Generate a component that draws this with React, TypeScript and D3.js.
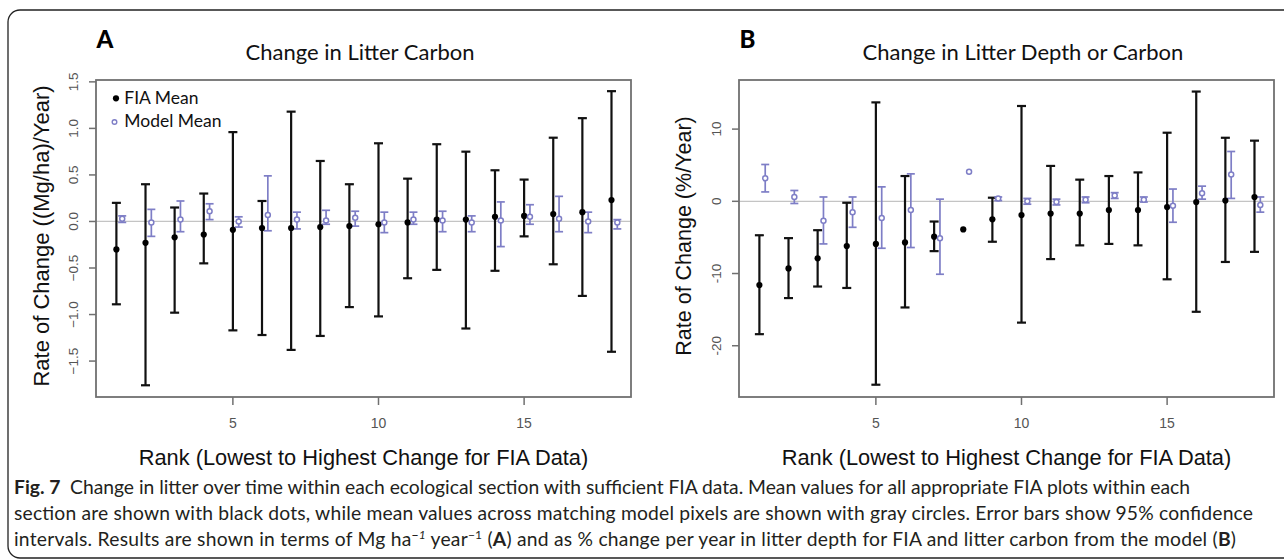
import React from "react";
import * as d3 from "d3";

const ranks = [1, 2, 3, 4, 5, 6, 7, 8, 9, 10, 11, 12, 13, 14, 15, 16, 17, 18];

// Panel A: Change in Litter Carbon ((Mg/ha)/Year)
const aFiaMean = [-0.30, -0.23, -0.17, -0.14, -0.09, -0.07, -0.07, -0.06, -0.05, -0.03, -0.01, 0.02, 0.02, 0.05, 0.06, 0.08, 0.10, 0.23];
const aFiaLow = [-0.89, -1.76, -0.98, -0.45, -1.17, -1.22, -1.38, -1.23, -0.92, -1.02, -0.61, -0.52, -1.15, -0.53, -0.16, -0.46, -0.80, -1.40];
const aFiaHigh = [0.20, 0.40, 0.15, 0.30, 0.96, 0.22, 1.18, 0.65, 0.40, 0.84, 0.46, 0.83, 0.75, 0.55, 0.45, 0.90, 1.11, 1.40];
const aModelMean = [0.03, -0.01, 0.02, 0.11, 0.00, 0.07, 0.02, 0.01, 0.04, -0.01, 0.02, 0.01, -0.01, 0.01, 0.05, 0.03, 0.00, -0.01];
const aModelLow = [-0.01, -0.16, -0.11, 0.02, -0.06, -0.10, -0.08, -0.03, -0.05, -0.12, -0.03, -0.11, -0.11, -0.27, -0.03, -0.11, -0.12, -0.08];
const aModelHigh = [0.06, 0.13, 0.22, 0.19, 0.05, 0.49, 0.10, 0.12, 0.11, 0.10, 0.10, 0.11, 0.06, 0.21, 0.18, 0.27, 0.10, 0.02];
const aYTicks = [-1.5, -1.0, -0.5, 0.0, 0.5, 1.0, 1.5];

// Panel B: Change in Litter Depth or Carbon (%/Year)
const bFiaMean = [-11.6, -9.3, -7.9, -6.2, -5.9, -5.7, -4.9, -3.9, -2.5, -1.9, -1.7, -1.7, -1.2, -1.2, -0.8, -0.1, 0.1, 0.6];
const bFiaLow = [-18.4, -13.4, -11.8, -12.0, -25.4, -14.7, -6.9, null, -5.6, -16.8, -8.0, -6.1, -5.9, -6.1, -10.8, -15.3, -8.4, -7.0];
const bFiaHigh = [-4.7, -5.1, -4.0, -0.2, 13.7, 3.5, -2.8, null, 0.5, 13.2, 4.9, 3.0, 3.5, 4.0, 9.5, 15.2, 8.8, 8.4];
const bModelMean = [3.2, 0.6, -2.7, -1.5, -2.3, -1.2, -5.1, 4.1, 0.4, 0.0, -0.1, 0.2, 0.8, 0.2, -0.6, 1.1, 3.7, -0.5];
const bModelLow = [1.3, -0.3, -5.9, -3.6, -6.5, -6.4, -10.1, null, 0.1, -0.4, -0.5, -0.2, 0.4, -0.1, -2.9, 0.3, 0.4, -1.5];
const bModelHigh = [5.1, 1.5, 0.6, 0.6, 2.0, 3.8, 0.3, null, 0.6, 0.4, 0.3, 0.6, 1.2, 0.6, 1.7, 2.1, 6.9, 0.6];
const bYTicks = [-20, -10, 0, 10];

const xTicks = [5, 10, 15];
const modelOffset = 0.2;

const R_FONT = "'Liberation Sans', Arial, sans-serif";
const HUM_FONT = "Lato, 'Open Sans', sans-serif";
const MODEL_COLOR = "#7e7ec6";
const BOX_COLOR = "#707070";
const TICK_TEXT = "#555555";

type PanelProps = {
  x0: number;
  x1: number;
  yDomain: [number, number];
  yTicks: number[];
  yFmt: (v: number) => string;
  fiaMean: number[];
  fiaLow: (number | null)[];
  fiaHigh: (number | null)[];
  modelMean: number[];
  modelLow: (number | null)[];
  modelHigh: (number | null)[];
  title: string;
  titleX: number;
  letter: string;
  yLabel: string;
  yLabelSize: number;
  legend?: boolean;
};

const TOP = 80;
const BOTTOM = 397;

function Panel(p: PanelProps) {
  const x = d3.scaleLinear().domain([0.3, 18.67]).range([p.x0, p.x1]);
  const y = d3.scaleLinear().domain(p.yDomain).range([BOTTOM, TOP]);
  const cap = 4.5;
  const mcap = 4;
  const cx = (p.x0 + p.x1) / 2;
  return (
    <g>
      <line x1={p.x0} x2={p.x1} y1={y(0)} y2={y(0)} stroke="#c4c4c4" strokeWidth={1.2} />
      {ranks.map((r, i) => {
        const lo = p.fiaLow[i];
        const hi = p.fiaHigh[i];
        if (lo == null || hi == null) return null;
        const xx = x(r);
        return (
          <g key={"f" + r} stroke="#111" strokeWidth={2.2}>
            <line x1={xx} x2={xx} y1={y(lo)} y2={y(hi)} />
            <line x1={xx - cap} x2={xx + cap} y1={y(lo)} y2={y(lo)} />
            <line x1={xx - cap} x2={xx + cap} y1={y(hi)} y2={y(hi)} />
          </g>
        );
      })}
      {ranks.map((r, i) => {
        const lo = p.modelLow[i];
        const hi = p.modelHigh[i];
        if (lo == null || hi == null) return null;
        const xx = x(r + modelOffset);
        return (
          <g key={"m" + r} stroke={MODEL_COLOR} strokeWidth={1.7}>
            <line x1={xx} x2={xx} y1={y(lo)} y2={y(hi)} />
            <line x1={xx - mcap} x2={xx + mcap} y1={y(lo)} y2={y(lo)} />
            <line x1={xx - mcap} x2={xx + mcap} y1={y(hi)} y2={y(hi)} />
          </g>
        );
      })}
      {ranks.map((r, i) => (
        <circle key={"fp" + r} cx={x(r)} cy={y(p.fiaMean[i])} r={3.1} fill="#000" />
      ))}
      {ranks.map((r, i) => (
        <circle
          key={"mp" + r}
          cx={x(r + modelOffset)}
          cy={y(p.modelMean[i])}
          r={2.5}
          fill="white"
          stroke={MODEL_COLOR}
          strokeWidth={1.5}
        />
      ))}
      <rect x={p.x0} y={TOP} width={p.x1 - p.x0} height={BOTTOM - TOP} fill="none" stroke={BOX_COLOR} strokeWidth={1.8} />
      {xTicks.map((t) => (
        <g key={"xt" + t}>
          <line x1={x(t)} x2={x(t)} y1={BOTTOM} y2={BOTTOM + 8} stroke={BOX_COLOR} strokeWidth={1.5} />
          <text x={x(t)} y={428} textAnchor="middle" fontFamily={R_FONT} fontSize={14} fill={TICK_TEXT}>
            {String(t)}
          </text>
        </g>
      ))}
      {p.yTicks.map((t) => (
        <g key={"yt" + t}>
          <line x1={p.x0 - 7} x2={p.x0} y1={y(t)} y2={y(t)} stroke={BOX_COLOR} strokeWidth={1.5} />
          <text
            transform={`translate(${p.x0 - 23},${y(t)}) rotate(-90)`}
            textAnchor="middle"
            dominantBaseline="central"
            fontFamily={R_FONT}
            fontSize={13.5}
            fill={TICK_TEXT}
          >
            {p.yFmt(t)}
          </text>
        </g>
      ))}
      <text x={cx} y={465} textAnchor="middle" fontFamily={R_FONT} fontSize={21.8} fill="#111">
        Rank (Lowest to Highest Change for FIA Data)
      </text>
      <text
        transform={`translate(${p.x0 - 55},${236}) rotate(-90)`}
        textAnchor="middle"
        dominantBaseline="central"
        fontFamily={R_FONT}
        fontSize={p.yLabelSize}
        fill="#111"
      >
        {p.yLabel}
      </text>
      <text x={p.titleX} y={60} textAnchor="middle" fontFamily={HUM_FONT} fontSize={22} fill="#111">
        {p.title}
      </text>
      <text x={p.x0 + 0.5} y={47.5} fontFamily={HUM_FONT} fontWeight={900} fontSize={24} fill="#000">
        {p.letter}
      </text>
      {p.legend && (
        <g fontFamily={HUM_FONT} fontSize={17.5} fill="#111">
          <circle cx={116} cy={98.3} r={3.1} fill="#000" />
          <text x={124.3} y={103.5}>FIA Mean</text>
          <circle cx={114.5} cy={122} r={2.3} fill="white" stroke={MODEL_COLOR} strokeWidth={1.4} />
          <text x={124.3} y={127}>Model Mean</text>
        </g>
      )}
    </g>
  );
}

export default function App() {
  const capStyle = { fontFamily: HUM_FONT, fontSize: 19.3, fill: "#231f20", lengthAdjust: "spacing" as const };
  return (
    <svg
      width={1284}
      height={559}
      viewBox="0 0 1284 559"
      style={{ position: "absolute", left: 0, top: 0, background: "white" }}
    >
      <rect x={0} y={0} width={1284} height={559} fill="white" />
      <rect x={8} y={10} width={1300} height={548} rx={12} ry={12} fill="none" stroke="#222" strokeWidth={1.3} />
      <Panel
        x0={96}
        x1={631}
        yDomain={[-1.886, 1.52]}
        yTicks={aYTicks}
        yFmt={(v) => d3.format(".1f")(v)}
        fiaMean={aFiaMean}
        fiaLow={aFiaLow}
        fiaHigh={aFiaHigh}
        modelMean={aModelMean}
        modelLow={aModelLow}
        modelHigh={aModelHigh}
        title="Change in Litter Carbon"
        titleX={360}
        letter="A"
        yLabel="Rate of Change ((Mg/ha)/Year)"
        yLabelSize={22}
        legend
      />
      <Panel
        x0={739}
        x1={1274}
        yDomain={[-27.1, 16.8]}
        yTicks={bYTicks}
        yFmt={(v) => String(v)}
        fiaMean={bFiaMean}
        fiaLow={bFiaLow}
        fiaHigh={bFiaHigh}
        modelMean={bModelMean}
        modelLow={bModelLow}
        modelHigh={bModelHigh}
        title="Change in Litter Depth or Carbon"
        titleX={1023}
        letter="B"
        yLabel="Rate of Change (%/Year)"
        yLabelSize={21.5}
      />
      <text x={14} y={494} textLength={1176} {...capStyle}>
        <tspan fontWeight={700}>Fig. 7</tspan>
        <tspan>{"\u00a0 Change in litter over time within each ecological section with sufficient FIA data. Mean values for all appropriate FIA plots within each"}</tspan>
      </text>
      <text x={14} y={520} textLength={1239} {...capStyle}>
        section are shown with black dots, while mean values across matching model pixels are shown with gray circles. Error bars show 95% confidence
      </text>
      <text x={14} y={546} textLength={1222} {...capStyle}>
        <tspan>intervals. Results are shown in terms of Mg ha</tspan>
        <tspan fontSize={12} dy={-7} fontStyle="italic">{"\u2212"}1</tspan>
        <tspan dy={7}>{" year"}</tspan>
        <tspan fontSize={12} dy={-7}>{"\u2212"}1</tspan>
        <tspan dy={7}>{" ("}</tspan>
        <tspan fontWeight={700}>A</tspan>
        <tspan>) and as % change per year in litter depth for FIA and litter carbon from the model (</tspan>
        <tspan fontWeight={700}>B</tspan>
        <tspan>)</tspan>
      </text>
    </svg>
  );
}
